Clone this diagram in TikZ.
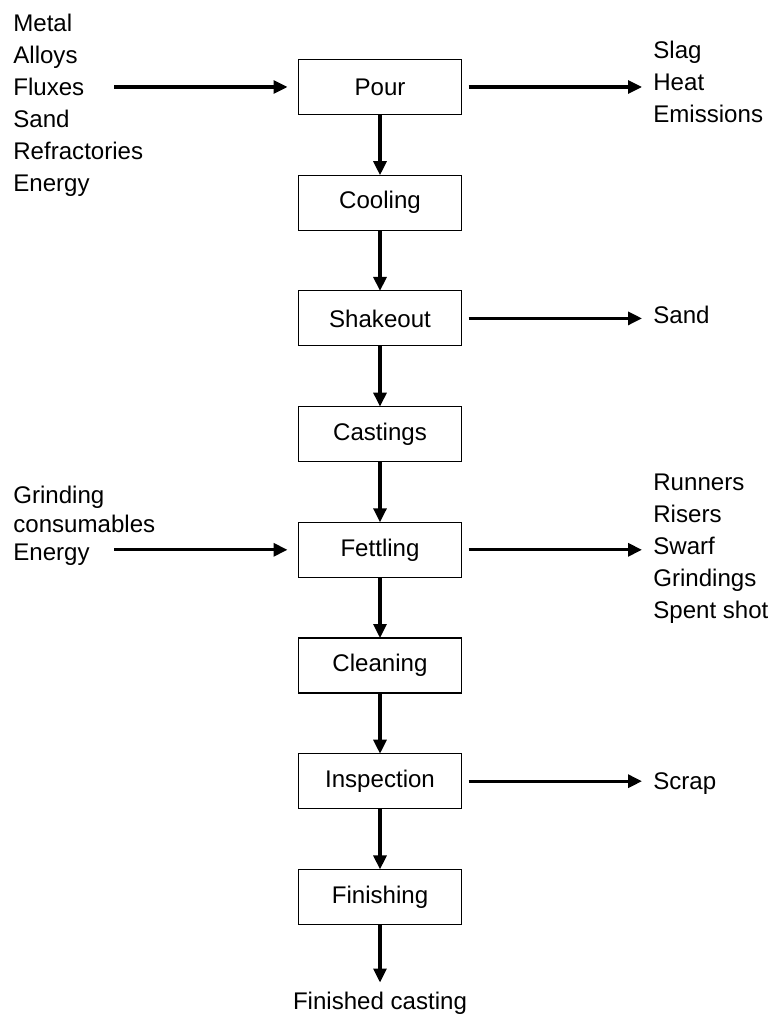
\documentclass[tikz,border=0pt]{standalone}
\usepackage{fontspec}
\setmainfont{Liberation Sans}
\usetikzlibrary{arrows.meta,positioning}

\begin{document}
\begin{tikzpicture}[>={Triangle[length=0.28cm,width=0.26cm]},
    node distance=1.214cm,
    font=\fontsize{13.7}{18.2}\selectfont,
    stage/.style={draw, line width=0.6pt, minimum width=3.26cm, minimum height=1.1cm, inner sep=0pt, outer sep=0pt},
    flow/.style={->, line width=1.8pt},
    items/.style={align=left, inner sep=0pt, anchor=west}]
    % Frame
    \useasboundingbox (0,0) rectangle (15.56,-20.3);

    % Process stages
    \node[stage] (pour) at (7.6,-1.74) {Pour};
    \node[stage, below=of pour] (cooling) {Cooling};
    \node[stage, below=of cooling] (shakeout) {Shakeout};
    \node[stage, below=of shakeout] (castings) {Castings};
    \node[stage, below=of castings] (fettling) {Fettling};
    \node[stage, below=of fettling] (cleaning) {Cleaning};
    \node[stage, below=of cleaning] (inspection) {Inspection};
    \node[stage, below=of inspection] (finishing) {Finishing};
    \node[inner sep=0pt, anchor=north] (finished) at (7.6,-19.83) {Finished casting};

    % Main flow
    \foreach \a/\b in {pour/cooling, cooling/shakeout, shakeout/castings, castings/fettling,
                       fettling/cleaning, cleaning/inspection, inspection/finishing}
        \draw[flow] (\a) -- (\b);
    \draw[flow, shorten >=0.18cm] (finishing) -- (finished);

    % Inputs
    \node[items] (pourin) at (0.26,-2.1) {Metal\\Alloys\\Fluxes\\Sand\\Refractories\\Energy};
    \node[items, font=\fontsize{13.7}{16.2}\selectfont] (fettlingin) at (0.26,-10.52) {Grinding\\consumables\\Energy};
    \coordinate (pourfeed) at (2.28,0 |- pour);
    \coordinate (fettlingfeed) at (2.28,0 |- fettling);
    \draw[flow, shorten >=0.22cm] (pourfeed) -- (pour);
    \draw[flow, shorten >=0.22cm] (fettlingfeed) -- (fettling);

    % Outputs
    \node[items] (pourout) at (13.06,-1.63) {Slag\\Heat\\Emissions};
    \node[items] (shakeoutout) at (13.06,-6.3) {Sand};
    \node[items] (fettlingout) at (13.06,-10.97) {Runners\\Risers\\Swarf\\Grindings\\Spent shot};
    \node[items] (inspectionout) at (13.06,-15.67) {Scrap};
    \foreach \a in {pour, shakeout, fettling, inspection}
        \draw[flow, shorten <=0.14cm, shorten >=0.22cm] (\a) -- (\a -| \a out.west);
\end{tikzpicture}
\end{document}
